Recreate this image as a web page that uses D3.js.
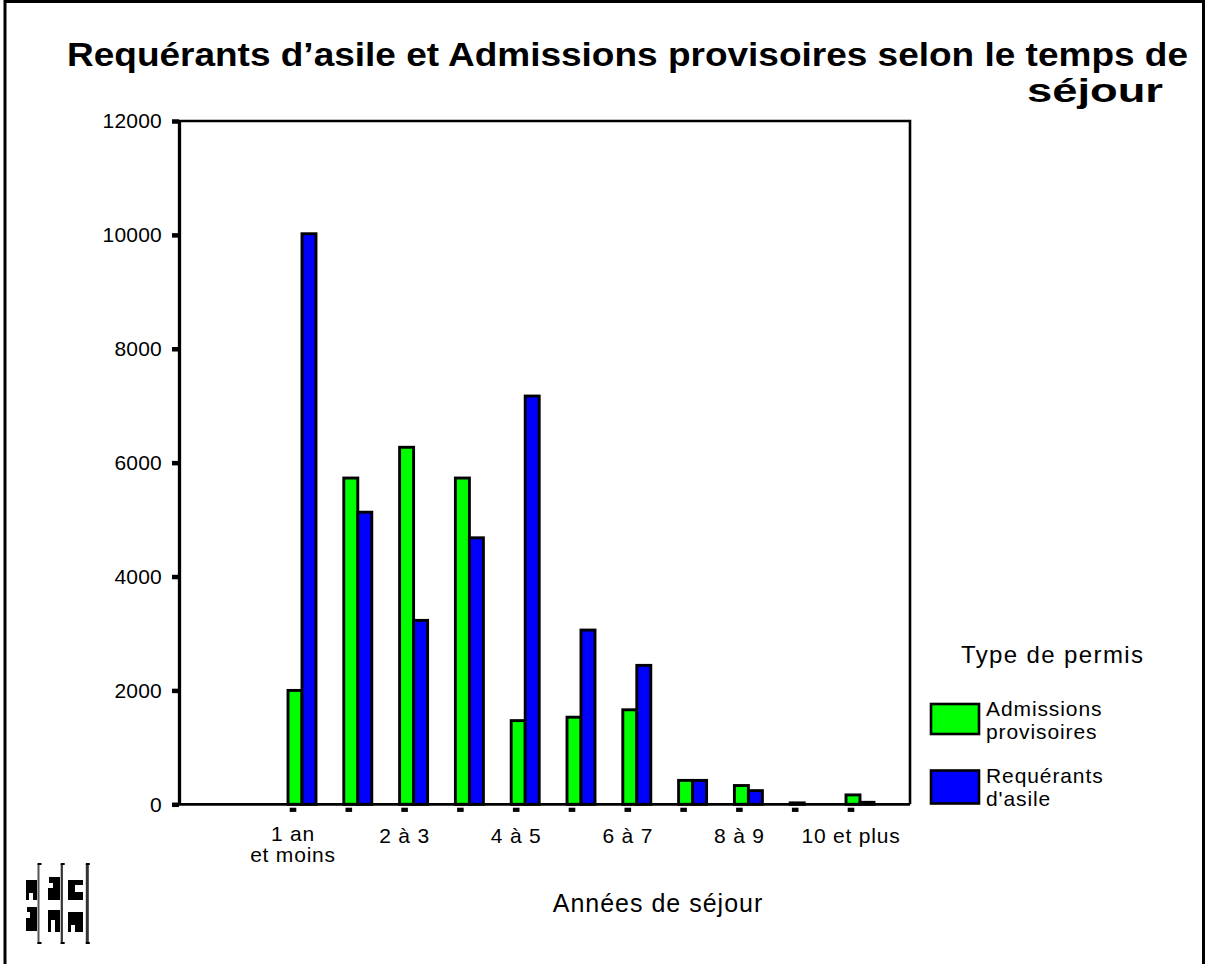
<!DOCTYPE html>
<html>
<head>
<meta charset="utf-8">
<script src="https://cdn.jsdelivr.net/npm/d3@7"></script>
<style>
  html, body { margin: 0; padding: 0; background: #fff; }
  svg { display: block; font-family: "Liberation Sans", Arial, sans-serif; }
</style>
</head>
<body>
<div id="chart"></div>
<script>
// Length of stay categories (years)
const categories = ["1 an et moins", "1 à 2", "2 à 3", "3 à 4", "4 à 5", "5 à 6",
                    "6 à 7", "7 à 8", "8 à 9", "9 à 10", "10 et plus"];
// Axis labels under the categories (every other one is printed)
const tickLabels = [["1 an", "et moins"], [], ["2 à 3"], [], ["4 à 5"], [],
                    ["6 à 7"], [], ["8 à 9"], [], ["10 et plus"]];
const seriesNames = ["Admissions provisoires", "Requérants d'asile"];
const legendLabels = [["Admissions", "provisoires"], ["Requérants", "d'asile"]];
const admissions = [2000, 5730, 6270, 5730, 1470, 1530, 1660, 420, 330, 25, 165];
const requerants = [10020, 5130, 3230, 4680, 7170, 3060, 2440, 420, 240, 0, 35];
const yTicks = [0, 2000, 4000, 6000, 8000, 10000, 12000];
const colors = ["#00ff00", "#0000ff"];

const W = 1206, H = 964;
const plot = { left: 179, right: 910, top: 121, bottom: 804.3 };

const svg = d3.select("#chart").append("svg")
  .attr("width", W).attr("height", H);

svg.append("rect").attr("width", W).attr("height", H).attr("fill", "#fff");

// page border
svg.append("path")
  .attr("d", `M5,${H + 5} L5,1.5 L1203.5,1.5 L1203.5,${H + 5}`)
  .attr("fill", "none").attr("stroke", "#000").attr("stroke-width", 3);

// title
svg.append("text")
  .attr("x", 67).attr("y", 66)
  .attr("font-size", 33).attr("font-weight", "bold")
  .attr("textLength", 1121).attr("lengthAdjust", "spacingAndGlyphs")
  .text("Requérants d’asile et Admissions provisoires selon le temps de");
svg.append("text")
  .attr("x", 1163).attr("y", 102)
  .attr("text-anchor", "end")
  .attr("font-size", 33).attr("font-weight", "bold")
  .attr("textLength", 136).attr("lengthAdjust", "spacingAndGlyphs")
  .text("séjour");

// scales
const y = d3.scaleLinear().domain([0, 12000]).range([plot.bottom, plot.top]);
const x = d3.scaleBand().domain(categories).range([265.1, 878.9]).padding(0);
const bw = x.bandwidth();
const x1 = d3.scaleBand().domain(seriesNames).range([bw / 2 - 5, bw / 2 + 23]).padding(0);

// plot frame (top and right)
svg.append("path")
  .attr("d", `M${plot.left},${plot.top} L${plot.right},${plot.top} L${plot.right},${plot.bottom}`)
  .attr("fill", "none").attr("stroke", "#000").attr("stroke-width", 2.6);

// bars
const rows = categories.map((c, i) => ({ cat: c, values: [admissions[i], requerants[i]] }));
const groups = svg.append("g").selectAll("g").data(rows).join("g")
  .attr("transform", d => `translate(${x(d.cat)},0)`);
groups.selectAll("rect")
  .data(d => d.values.map((v, k) => ({ name: seriesNames[k], v, k })))
  .join("rect")
  .attr("x", d => x1(d.name))
  .attr("width", x1.bandwidth())
  .attr("y", d => y(d.v))
  .attr("height", d => y(0) - y(d.v))
  .attr("fill", d => colors[d.k])
  .attr("stroke", "#000").attr("stroke-width", 2.9);

// y axis
const yAxis = svg.append("g")
  .attr("transform", `translate(${plot.left},0)`)
  .call(d3.axisLeft(y).tickValues(yTicks).tickFormat(d3.format("d"))
        .tickSize(7).tickSizeOuter(0).tickPadding(10));
yAxis.select(".domain").attr("stroke-width", 3.3);
yAxis.selectAll(".tick line").attr("stroke-width", 4.5);
yAxis.selectAll(".tick text")
  .attr("font-size", 21).attr("fill", "#000")
  .attr("font-family", "Liberation Sans, Arial, sans-serif")
  .attr("letter-spacing", 0.2);

// x axis baseline
svg.append("line")
  .attr("x1", plot.left).attr("x2", plot.right)
  .attr("y1", plot.bottom).attr("y2", plot.bottom)
  .attr("stroke", "#000").attr("stroke-width", 2.8);

// x axis ticks and labels
const xAxis = svg.append("g")
  .attr("transform", `translate(0,${plot.bottom})`)
  .call(d3.axisBottom(x).tickSizeOuter(0).tickFormat(""));
xAxis.select(".domain").remove();
xAxis.selectAll(".tick line")
  .attr("y1", 3.4).attr("y2", 7.6).attr("stroke-width", 6.6);
xAxis.selectAll(".tick text").remove();
xAxis.selectAll(".tick").each(function (d, i) {
  const lines = tickLabels[i];
  if (!lines.length) return;
  const t = d3.select(this).append("text")
    .attr("text-anchor", "middle")
    .attr("font-size", 21).attr("fill", "#000")
    .attr("letter-spacing", 0.8);
  const base = lines.length > 1 ? 36.4 : 39;
  lines.forEach((s, j) => {
    t.append("tspan").attr("x", 0).attr("y", base + j * 21).text(s);
  });
});

// x axis title
svg.append("text")
  .attr("x", 658).attr("y", 912)
  .attr("text-anchor", "middle")
  .attr("font-size", 25).attr("letter-spacing", 1)
  .text("Années de séjour");

// legend
const legend = svg.append("g");
legend.append("text")
  .attr("x", 961).attr("y", 663)
  .attr("font-size", 24)
  .attr("textLength", 182).attr("lengthAdjust", "spacing")
  .text("Type de permis");
const legendY = [704, 770.5];
seriesNames.forEach((s, k) => {
  legend.append("rect")
    .attr("x", 931).attr("y", legendY[k])
    .attr("width", 48).attr("height", k === 0 ? 30 : 33)
    .attr("fill", colors[k]).attr("stroke", "#000").attr("stroke-width", 2.6);
  const t = legend.append("text").attr("font-size", 21).attr("letter-spacing", 0.9);
  legendLabels[k].forEach((line, j) => {
    t.append("tspan").attr("x", 986).attr("y", legendY[k] + 12 + j * 23).text(line);
  });
});

// emblem at lower left
const logo = svg.append("g").attr("fill", "#000");
[[38.5, 2], [61.8, 2.2], [87.3, 3]].forEach(([lx, lw]) => {
  logo.append("rect").attr("x", lx - lw / 2).attr("y", 864).attr("width", lw).attr("height", 80)
    .attr("fill", lw > 2.1 ? "#333" : "#555");
  logo.append("rect").attr("x", lx - lw / 2).attr("y", 863).attr("width", 4).attr("height", 2);
  logo.append("rect").attr("x", lx - lw / 2).attr("y", 942).attr("width", 4).attr("height", 2);
});
[
  "M26,880 H37 V900 H33 V893 H29 V900 H26 Z",
  "M27,907 H37 V931 H26 V918 H30 V912 H27 Z",
  "M49,877 H60 V900 H48 V888 H53 V883 H49 Z",
  "M48,910 H60 V932 H55 V920 H51 V932 H48 Z",
  "M68,880 H83 V885 H75 V892 H83 V900 H68 Z",
  "M68,912 H83 V932 H75 V925 H71 V932 H68 Z"
].forEach(p => logo.append("path").attr("d", p));
</script>
</body>
</html>
